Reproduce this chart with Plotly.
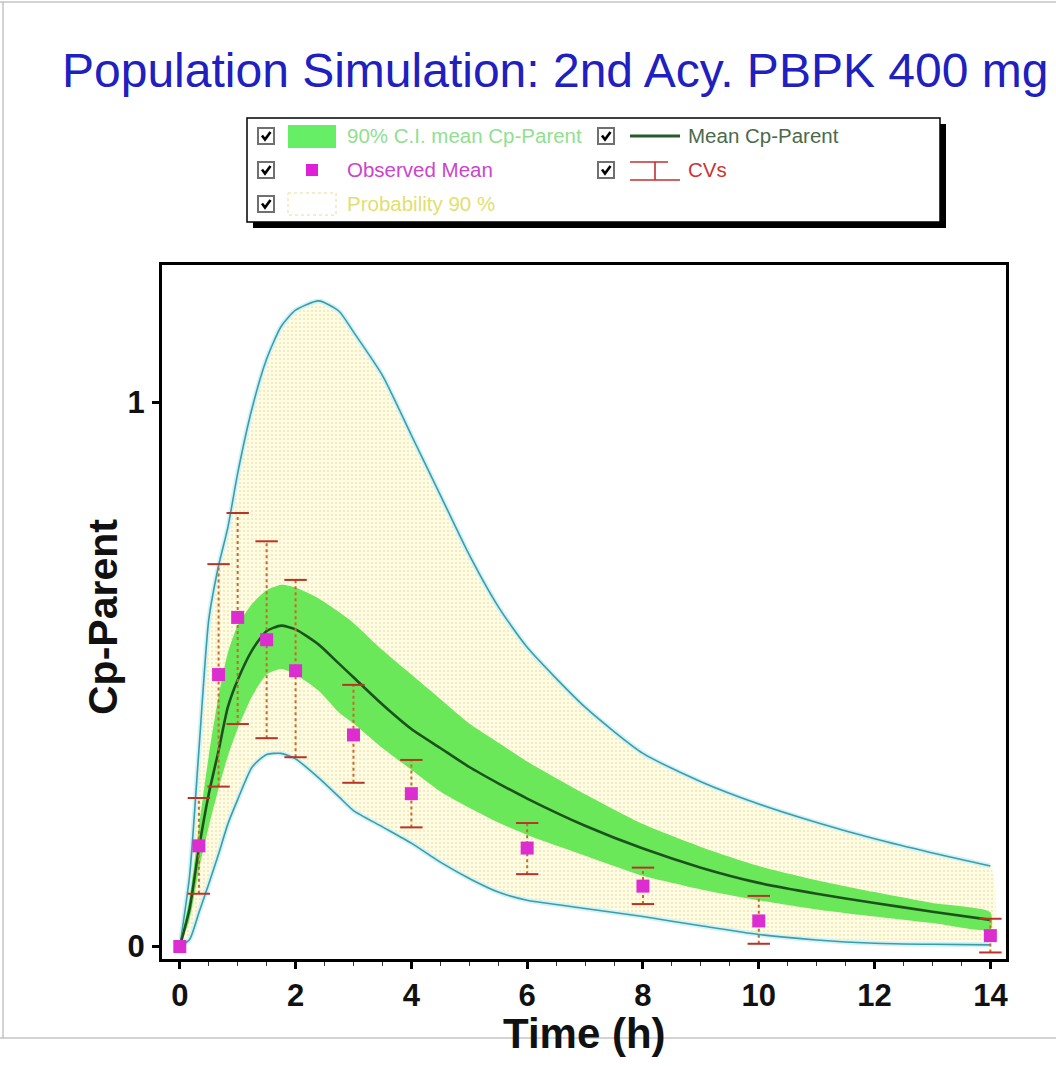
import plotly.graph_objects as go

# ---------------- data ----------------
time = [0, 0.17, 0.33, 0.5, 0.67, 0.83, 1, 1.25, 1.5, 1.75, 2, 2.4, 2.75, 3, 3.5, 4,
        4.5, 5, 5.5, 6, 7, 8, 9, 10, 11, 12, 13, 14]
prob_upper = [0, 0.13, 0.36, 0.60, 0.70, 0.77, 0.87, 0.99, 1.08, 1.14, 1.17, 1.187, 1.168,
              1.13, 1.05, 0.94, 0.83, 0.72, 0.625, 0.55, 0.44, 0.355, 0.303, 0.262, 0.228,
              0.198, 0.172, 0.148]
prob_lower = [0, 0.013, 0.062, 0.115, 0.17, 0.225, 0.27, 0.33, 0.353, 0.355, 0.345, 0.31,
              0.275, 0.25, 0.22, 0.19, 0.155, 0.125, 0.10, 0.085, 0.07, 0.055, 0.038, 0.022,
              0.012, 0.006, 0.004, 0.003]
mean_cp = [0, 0.07, 0.18, 0.28, 0.36, 0.44, 0.49, 0.545, 0.58, 0.59, 0.583, 0.555, 0.52,
           0.495, 0.445, 0.40, 0.365, 0.33, 0.30, 0.272, 0.222, 0.18, 0.145, 0.117, 0.097,
           0.08, 0.064, 0.049]
ci_upper = [0, 0.09, 0.22, 0.35, 0.46, 0.54, 0.59, 0.63, 0.655, 0.665, 0.66, 0.64, 0.615,
            0.595, 0.545, 0.50, 0.455, 0.41, 0.375, 0.34, 0.28, 0.225, 0.183, 0.148, 0.122,
            0.10, 0.08, 0.063]
ci_lower = [0, 0.05, 0.14, 0.22, 0.29, 0.35, 0.40, 0.46, 0.50, 0.51, 0.50, 0.47, 0.43,
            0.41, 0.365, 0.325, 0.285, 0.255, 0.228, 0.205, 0.167, 0.13, 0.105, 0.085,
            0.068, 0.055, 0.043, 0.031]

obs_time = [0, 0.33, 0.67, 1, 1.5, 2, 3, 4, 6, 8, 10, 14]
obs_mean = [0, 0.185, 0.500, 0.605, 0.564, 0.507, 0.389, 0.281, 0.181, 0.111, 0.047, 0.020]
obs_upper = [0, 0.273, 0.703, 0.797, 0.745, 0.674, 0.481, 0.343, 0.227, 0.145, 0.093, 0.051]
obs_lower = [0, 0.097, 0.294, 0.409, 0.383, 0.348, 0.301, 0.219, 0.133, 0.078, 0.005, -0.011]

x_ticks = [0, 2, 4, 6, 8, 10, 12, 14]
x_tick_labels = ["0", "2", "4", "6", "8", "10", "12", "14"]
y_ticks = [0, 1]
y_tick_labels = ["0", "1"]

title_text = "Population Simulation: 2nd Acy. PBPK 400 mg"
legend_left = ["90% C.I. mean Cp-Parent", "Observed Mean", "Probability 90 %"]
legend_right = ["Mean Cp-Parent", "CVs"]

# ---------------- layout geometry ----------------
W, H = 1056, 1066
ML, MR, MT, MB = 162, 50, 265, 107
PW = W - ML - MR
PH = H - MT - MB


def px(x):
    return (x - ML) / PW


def py(y):
    return (H - MB - y) / PH


FONT = "Liberation Sans, Arial, sans-serif"

fig = go.Figure()

# Probability 90% band (dotted yellow)
fig.add_trace(go.Scatter(
    x=time + time[::-1], y=prob_upper + prob_lower[::-1],
    fill="toself", mode="lines", line=dict(width=0, shape="spline", smoothing=0.6),
    fillcolor="#fffce6",
    fillpattern=dict(shape=".", bgcolor="#fffce6", fgcolor="#e8d27a", size=4, solidity=0.22),
    hoverinfo="skip", showlegend=False))
# outline halo + teal lines
for arr in (prob_upper, prob_lower):
    fig.add_trace(go.Scatter(x=time, y=arr, mode="lines",
                             line=dict(color="#d2f2f8", width=5, shape="spline", smoothing=0.6),
                             hoverinfo="skip", showlegend=False))
    fig.add_trace(go.Scatter(x=time, y=arr, mode="lines",
                             line=dict(color="#3c9ea4", width=1.6, shape="spline", smoothing=0.6),
                             hoverinfo="skip", showlegend=False))

# 90% CI of mean (green band)
fig.add_trace(go.Scatter(
    x=time + time[::-1], y=ci_upper + ci_lower[::-1],
    fill="toself", mode="lines", line=dict(width=0, shape="spline", smoothing=0.6),
    fillcolor="#6ae85a", hoverinfo="skip", showlegend=False))

# Mean line
fig.add_trace(go.Scatter(x=time, y=mean_cp, mode="lines",
                         line=dict(color="#1d521d", width=2.6, shape="spline", smoothing=0.6),
                         showlegend=False))

# Error bars (CVs)
ex, ey, cx, cy = [], [], [], []
for t, lo, hi in zip(obs_time, obs_lower, obs_upper):
    if hi > lo:
        ex += [t, t, None]
        ey += [lo, hi, None]
        cx += [t, t]
        cy += [lo, hi]
fig.add_trace(go.Scatter(x=ex, y=ey, mode="lines",
                         line=dict(color="#c86a28", width=2, dash="dot"),
                         hoverinfo="skip", showlegend=False))
fig.add_trace(go.Scatter(x=cx, y=cy, mode="markers",
                         marker=dict(symbol="line-ew", size=16,
                                     line=dict(color="#b83428", width=2)),
                         hoverinfo="skip", showlegend=False))

# Observed means
fig.add_trace(go.Scatter(x=obs_time, y=obs_mean, mode="markers",
                         marker=dict(symbol="square", size=13, color="#dc2ed0",
                                     line=dict(width=0)),
                         showlegend=False))

# ---------------- shapes (frame + custom legend) ----------------
shapes = []
# outer thin gray frame of the picture
shapes.append(dict(type="line", xref="paper", yref="paper", x0=px(0), x1=px(W), y0=py(2), y1=py(2),
                   line=dict(color="#a8a8a8", width=1)))
shapes.append(dict(type="line", xref="paper", yref="paper", x0=px(3), x1=px(3), y0=py(2), y1=py(1038),
                   line=dict(color="#a8a8a8", width=1)))
shapes.append(dict(type="line", xref="paper", yref="paper", x0=px(0), x1=px(W), y0=py(1038), y1=py(1038),
                   line=dict(color="#a8a8a8", width=1)))

# legend box with shadow
bx0, by0, bx1, by1 = 247, 118, 940, 222
shapes.append(dict(type="rect", xref="paper", yref="paper", x0=px(bx0 + 6), x1=px(bx1 + 6),
                   y0=py(by0 + 6), y1=py(by1 + 6), fillcolor="black", line=dict(width=0)))
shapes.append(dict(type="rect", xref="paper", yref="paper", x0=px(bx0), x1=px(bx1),
                   y0=py(by0), y1=py(by1), fillcolor="white", line=dict(color="black", width=1.5)))

rows = [136, 170, 204]


def checkbox(x0, yc):
    y0 = yc - 8
    shapes.append(dict(type="rect", xref="paper", yref="paper", x0=px(x0), x1=px(x0 + 16),
                       y0=py(y0), y1=py(y0 + 16), fillcolor="white",
                       line=dict(color="#707070", width=2)))
    path = "M {:.5f},{:.5f} L {:.5f},{:.5f} L {:.5f},{:.5f}".format(
        px(x0 + 4), py(y0 + 7.5), px(x0 + 7), py(y0 + 11.5), px(x0 + 12.5), py(y0 + 4))
    shapes.append(dict(type="path", xref="paper", yref="paper", path=path,
                       line=dict(color="black", width=2.6)))


for r in rows:
    checkbox(258, r)
for r in rows[:2]:
    checkbox(598, r)

# swatches
shapes.append(dict(type="rect", xref="paper", yref="paper", x0=px(288), x1=px(336),
                   y0=py(125), y1=py(148), fillcolor="#66ee66", line=dict(width=0)))
shapes.append(dict(type="rect", xref="paper", yref="paper", x0=px(306), x1=px(318),
                   y0=py(164), y1=py(176), fillcolor="#e020d8", line=dict(width=0)))
shapes.append(dict(type="rect", xref="paper", yref="paper", x0=px(288), x1=px(336),
                   y0=py(193), y1=py(215), fillcolor="rgba(0,0,0,0)",
                   line=dict(color="#e6dc9a", width=1, dash="dot")))
shapes.append(dict(type="line", xref="paper", yref="paper", x0=px(630), x1=px(680),
                   y0=py(136), y1=py(136), line=dict(color="#2a5a2a", width=3)))
for (xa, xb, yy) in [(630, 668, 162), (630, 680, 180)]:
    shapes.append(dict(type="line", xref="paper", yref="paper", x0=px(xa), x1=px(xb),
                       y0=py(yy), y1=py(yy), line=dict(color="#c03030", width=1.6)))
shapes.append(dict(type="line", xref="paper", yref="paper", x0=px(655), x1=px(655),
                   y0=py(162), y1=py(180), line=dict(color="#c03030", width=1.6)))

# ---------------- annotations ----------------
ann = []
ann.append(dict(text=title_text, xref="paper", yref="paper", x=px(60), y=py(70),
                xanchor="left", yanchor="middle", showarrow=False,
                font=dict(family=FONT, size=48, color="#2020c0")))
left_colors = ["#90e090", "#cc44cc", "#e0e070"]
for txt, r, c in zip(legend_left, rows, left_colors):
    ann.append(dict(text=txt, xref="paper", yref="paper", x=px(345), y=py(r),
                    xanchor="left", yanchor="middle", showarrow=False,
                    font=dict(family=FONT, size=20.5, color=c)))
right_colors = ["#4a6a4a", "#cc3333"]
for txt, r, c in zip(legend_right, rows[:2], right_colors):
    ann.append(dict(text=txt, xref="paper", yref="paper", x=px(686), y=py(r),
                    xanchor="left", yanchor="middle", showarrow=False,
                    font=dict(family=FONT, size=20.5, color=c)))
# axis titles
ann.append(dict(text="Time (h)", xref="paper", yref="paper", x=px(584), y=py(1033),
                xanchor="center", yanchor="middle", showarrow=False,
                font=dict(family=FONT, size=42, color="#111111", weight="bold")))
ann.append(dict(text="Cp-Parent", xref="paper", yref="paper", x=px(103), y=py(617),
                xanchor="center", yanchor="middle", showarrow=False, textangle=-90,
                font=dict(family=FONT, size=41, color="#111111", weight="bold")))

axis_common = dict(showline=True, linecolor="black", linewidth=3, mirror=True,
                   showgrid=False, zeroline=False, ticks="outside", ticklen=7,
                   tickwidth=3, tickcolor="black",
                   tickfont=dict(family=FONT, size=31, color="#111111", weight="bold"))

fig.update_layout(
    width=W, height=H,
    margin=dict(l=ML, r=MR, t=MT, b=MB, pad=0),
    paper_bgcolor="white", plot_bgcolor="white",
    showlegend=False,
    shapes=shapes, annotations=ann,
    xaxis=dict(range=[-0.307, 14.27], tickmode="array", tickvals=x_ticks,
               ticktext=x_tick_labels, ticklabelstandoff=0,
               minor=dict(tick0=0, dtick=0.5, ticks="outside", ticklen=4, tickwidth=1,
                          tickcolor="#333333"),
               **axis_common),
    yaxis=dict(range=[-0.023, 1.253], tickmode="array", tickvals=y_ticks,
               ticktext=y_tick_labels, ticklabelstandoff=1, **axis_common),
)

fig.write_html("out.html")
